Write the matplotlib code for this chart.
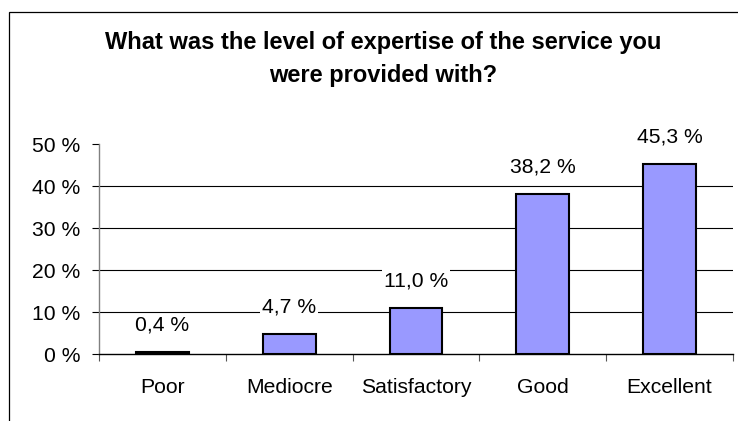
import matplotlib
matplotlib.use("Agg")
import matplotlib.pyplot as plt
from matplotlib.patches import Rectangle
import numpy as np

plt.rcParams['font.family'] = ['Liberation Sans', 'DejaVu Sans']

categories = ["Poor", "Mediocre", "Satisfactory", "Good", "Excellent"]
values = [0.4, 4.7, 11.0, 38.2, 45.3]
value_labels = ["0,4 %", "4,7 %", "11,0 %", "38,2 %", "45,3 %"]
y_ticks = [0, 10, 20, 30, 40, 50]
y_tick_labels = ["0 %", "10 %", "20 %", "30 %", "40 %", "50 %"]
title_lines = ["What was the level of expertise of the service you",
               "were provided with?"]

W, H = 738, 421
fs = 15.2
fig = plt.figure(figsize=(W / 100, H / 100), dpi=100)
fig.patch.set_facecolor("white")

# chart frame (left and top edges visible)
fig.patches.append(Rectangle((9 / W, -0.1), 1.2, 1 - 12 / H + 0.1,
                             transform=fig.transFigure, fill=False,
                             edgecolor="black", linewidth=0.9))

ax_left, ax_right = 99 / W, 733 / W
ax_bottom, ax_top = 1 - 354 / H, 1 - 144.3 / H
ax = fig.add_axes([ax_left, ax_bottom, ax_right - ax_left, ax_top - ax_bottom])

x = np.arange(len(categories))
ax.bar(x, values, width=0.415, color="#9999FF", edgecolor="black",
       linewidth=1.5, zorder=3)

ax.set_xlim(-0.5, len(categories) - 0.5)
ax.set_ylim(0, 50)

# gridlines at inner ticks only
for yv in y_ticks[1:-1]:
    ax.axhline(yv, color="black", linewidth=0.8, zorder=1)

ax.set_yticks(y_ticks)
ax.set_yticklabels(y_tick_labels, fontsize=fs)
ax.tick_params(axis="y", length=5, width=0.8, color="black", pad=8.5)

ax.set_xticks(x)
ax.set_xticklabels(categories, fontsize=fs)
ax.tick_params(axis="x", which="major", length=0, pad=17)
ax.set_xticks(np.arange(-0.5, len(categories)), minor=True)
ax.tick_params(axis="x", which="minor", length=5, width=0.8, color="#555555")

for side in ["top", "right"]:
    ax.spines[side].set_visible(False)
ax.spines["left"].set_color("#808080")
ax.spines["left"].set_linewidth(1.0)
ax.spines["bottom"].set_color("black")
ax.spines["bottom"].set_linewidth(1.0)

for xi, v, lab in zip(x, values, value_labels):
    ax.annotate(lab, xy=(xi, v), xytext=(0, 19.5), textcoords="offset points",
                ha="center", va="center", fontsize=fs, zorder=4,
                bbox=dict(boxstyle="square,pad=0.1", facecolor="white",
                          edgecolor="none"))

# two-line bold title, baselines placed explicitly
for line, y_base in zip(title_lines, [49.3, 81.7]):
    fig.text(383 / W, 1 - y_base / H, line, ha="center", va="baseline",
             fontsize=17, fontweight="bold")

fig.savefig("out.png", dpi=100, facecolor="white")
